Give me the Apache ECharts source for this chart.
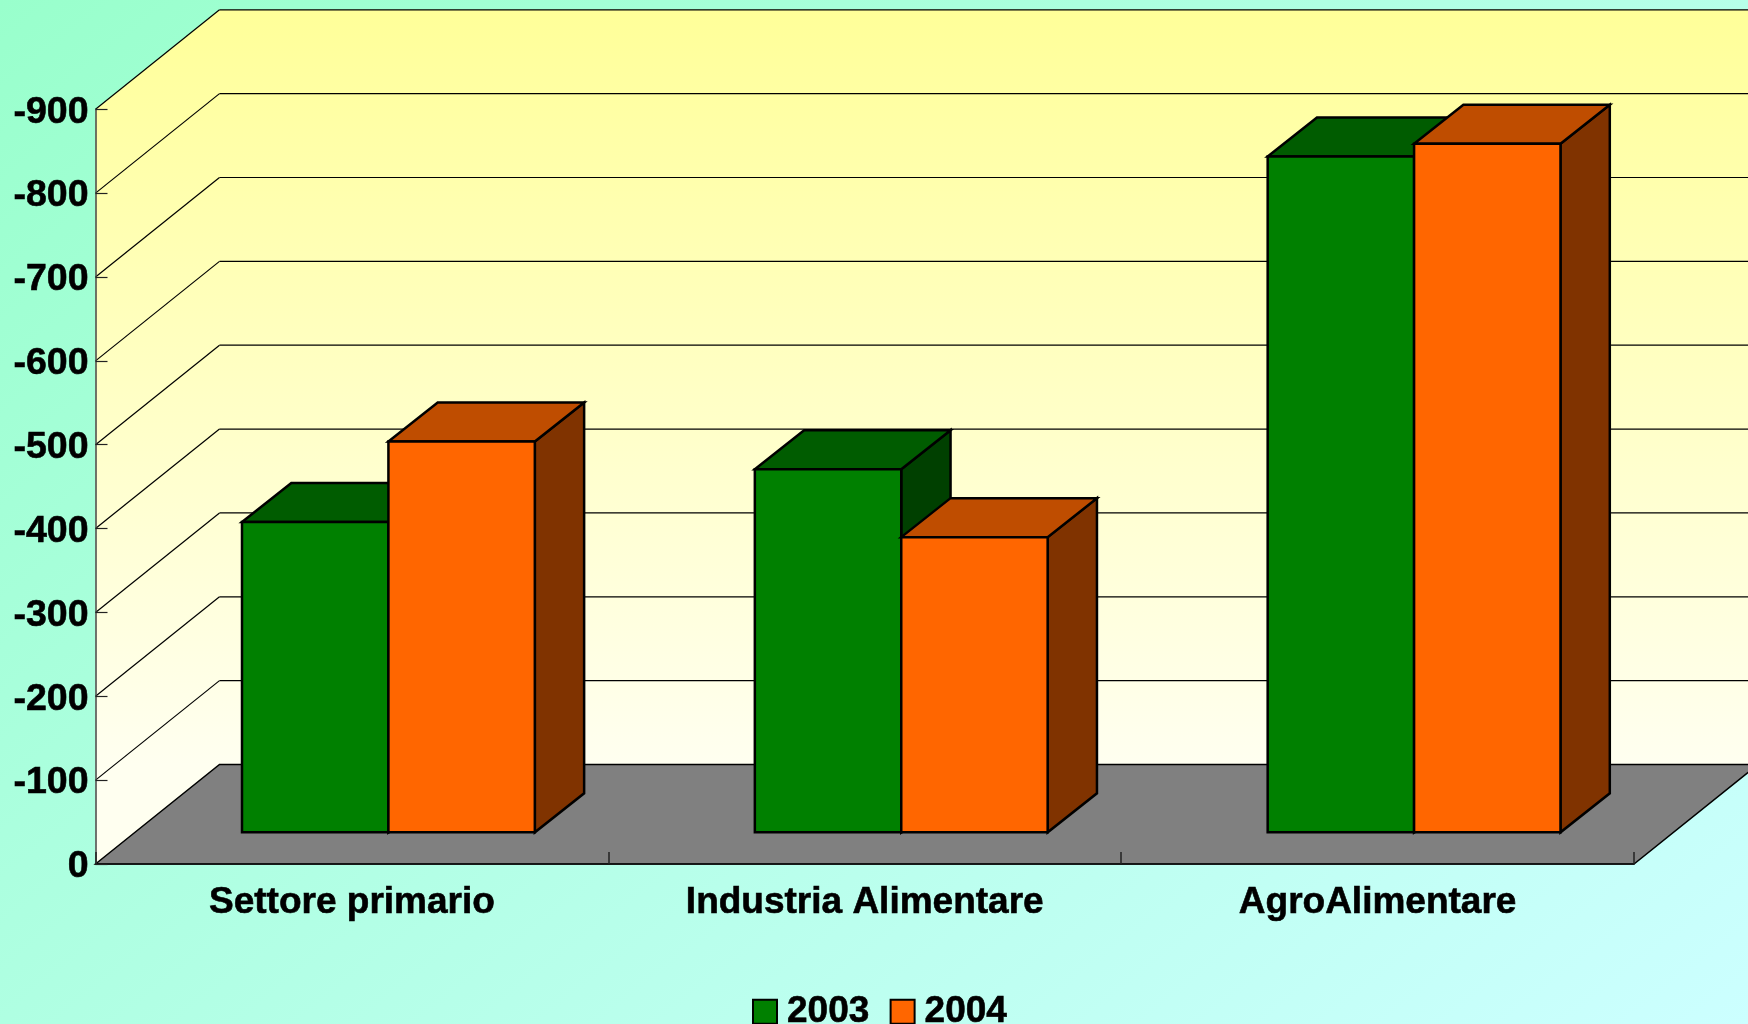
<!DOCTYPE html>
<html>
<head>
<meta charset="utf-8">
<title>Settore primario, Industria Alimentare, AgroAlimentare</title>
<script src="https://cdn.jsdelivr.net/npm/echarts@6/dist/echarts.min.js"></script>
<style>
  html, body { margin: 0; padding: 0; }
  #main { width: 1748px; height: 1024px; }
</style>
</head>
<body>
<div id="main"></div>
<script>
var categories = ['Settore primario', 'Industria Alimentare', 'AgroAlimentare'];
var years = ['2003', '2004'];
var values2003 = [-370, -433, -806];
var values2004 = [-466, -352, -821];
var gridValues = [0, -100, -200, -300, -400, -500, -600, -700, -800, -900];

// fake 3d: how far the back wall sits behind the axis plane, in px
var DEPTH_X = 124;
var DEPTH_Y = 99.5;
// where the bar fronts sit on the floor and how deep the bars are
var BAR_SHIFT_X = 36.5;
var BAR_SHIFT_Y = 31.7;
var BAR_DEPTH_X = 49.3;
var BAR_DEPTH_Y = 39;
var BAR_RATIO = 0.2855;

var FONT = {
  fontFamily: 'Liberation Sans',
  fontWeight: 'bold',
  fontSize: 37,
  color: '#000',
  textBorderColor: '#000',
  textBorderWidth: 0.6
};

function poly(points, fill, z2) {
  return {
    type: 'polygon',
    z2: z2,
    shape: { points: points },
    style: { fill: fill, stroke: '#000', lineWidth: 2.5, lineJoin: 'miter' }
  };
}

function thinLine(x1, y1, x2, y2) {
  return {
    type: 'line',
    z2: 2,
    shape: { x1: x1, y1: y1, x2: x2, y2: y2 },
    style: { stroke: '#000', lineWidth: 1.2 }
  };
}

function renderWalls(params, api) {
  var cs = params.coordSys;
  var left = cs.x;
  var right = cs.x + cs.width;
  var bottom = api.coord([0, 0])[1];
  var top = api.coord([0, -900])[1];
  var wallFill = new echarts.graphic.LinearGradient(0, top - DEPTH_Y, 0, bottom - DEPTH_Y, [
    { offset: 0, color: '#ffff99' },
    { offset: 1, color: '#fffff0' }
  ], true);
  var children = [
    {
      type: 'polygon', z2: 1,
      shape: { points: [[left, bottom], [left, top], [left + DEPTH_X, top - DEPTH_Y], [right + DEPTH_X, top - DEPTH_Y], [right + DEPTH_X, bottom - DEPTH_Y], [left + DEPTH_X, bottom - DEPTH_Y]] },
      style: { fill: wallFill }
    }
  ];
  gridValues.forEach(function (v) {
    if (v === 0) return;
    var y = api.coord([0, v])[1];
    children.push(thinLine(left, y, left + DEPTH_X, y - DEPTH_Y));
    children.push(thinLine(left + DEPTH_X, y - DEPTH_Y, right + DEPTH_X, y - DEPTH_Y));
  });
  children.push({
    type: 'polygon', z2: 3,
    shape: { points: [[left, bottom], [left + DEPTH_X, bottom - DEPTH_Y], [right + DEPTH_X, bottom - DEPTH_Y], [right, bottom]] },
    style: { fill: '#808080', stroke: '#000', lineWidth: 1.5 }
  });
  return { type: 'group', children: children };
}

function makeBarRenderer(seriesIndex, front, topFace, side) {
  return function (params, api) {
    var idx = api.value(0);
    var base = api.coord([idx, 0]);
    var head = api.coord([idx, api.value(1)]);
    var w = api.size([1, 0])[0] * BAR_RATIO;
    var x0 = base[0] + BAR_SHIFT_X - w + seriesIndex * w;
    var x1 = x0 + w;
    var y0 = base[1] - BAR_SHIFT_Y;
    var y1 = head[1] - BAR_SHIFT_Y;
    var dx = BAR_DEPTH_X;
    var dy = BAR_DEPTH_Y;
    return {
      type: 'group',
      children: [
        poly([[x1, y0], [x1, y1], [x1 + dx, y1 - dy], [x1 + dx, y0 - dy]], side, 1),
        poly([[x0, y1], [x0 + dx, y1 - dy], [x1 + dx, y1 - dy], [x1, y1]], topFace, 1),
        poly([[x0, y0], [x0, y1], [x1, y1], [x1, y0]], front, 2)
      ]
    };
  };
}

function rows(values) {
  return values.map(function (v, i) { return [i, v]; });
}

var chart = echarts.init(document.getElementById('main'));

var option = {
  animation: false,
  backgroundColor: new echarts.graphic.LinearGradient(0, 0, 1146, 1488, [
    { offset: 0, color: '#99ffcc' },
    { offset: 1, color: '#ccffff' }
  ], true),
  grid: { left: 95.5, top: 109.3, width: 1538.5, height: 754.7 },
  xAxis: {
    type: 'category',
    data: categories,
    position: 'bottom',
    z: 10,
    axisLine: { onZero: false, lineStyle: { color: '#111', width: 1.5 } },
    axisTick: { show: true, inside: true, length: 12, lineStyle: { color: '#222', width: 1.5 } },
    axisLabel: Object.assign({ margin: 20, interval: 0 }, FONT),
    splitLine: { show: false }
  },
  yAxis: {
    type: 'value',
    inverse: true,
    min: -900,
    max: 0,
    interval: 100,
    z: 10,
    axisLine: { show: true, lineStyle: { color: '#444', width: 1.5 } },
    axisTick: { show: true, inside: true, length: 12, lineStyle: { color: '#222', width: 1.2 } },
    // top anchored so the negative padding can push the text a little below the tick
    axisLabel: Object.assign({ margin: 7, verticalAlign: 'top', padding: [-16, 0, 0, 0] }, FONT, { fontSize: 37.5 }),
    splitLine: { show: false }
  },
  legend: {
    data: years,
    left: 752,
    top: 993,
    padding: 0,
    icon: 'rect',
    itemWidth: 24,
    itemHeight: 24,
    itemGap: 20,
    selectedMode: false,
    itemStyle: { borderColor: '#000', borderWidth: 2 },
    textStyle: Object.assign({ padding: [0, 0, 0, 5] }, FONT)
  },
  series: [
    {
      type: 'custom',
      name: 'walls',
      silent: true,
      z: 1,
      renderItem: renderWalls,
      encode: { x: 0, y: 1 },
      data: [[0, 0]]
    },
    {
      type: 'custom',
      name: years[0],
      z: 2,
      itemStyle: { color: '#008000' },
      renderItem: makeBarRenderer(0, '#008000', '#005c00', '#004000'),
      encode: { x: 0, y: 1 },
      data: rows(values2003)
    },
    {
      type: 'custom',
      name: years[1],
      z: 3,
      itemStyle: { color: '#ff6600' },
      renderItem: makeBarRenderer(1, '#ff6600', '#bf4d00', '#803300'),
      encode: { x: 0, y: 1 },
      data: rows(values2004)
    }
  ]
};

chart.setOption(option);
</script>
</body>
</html>
